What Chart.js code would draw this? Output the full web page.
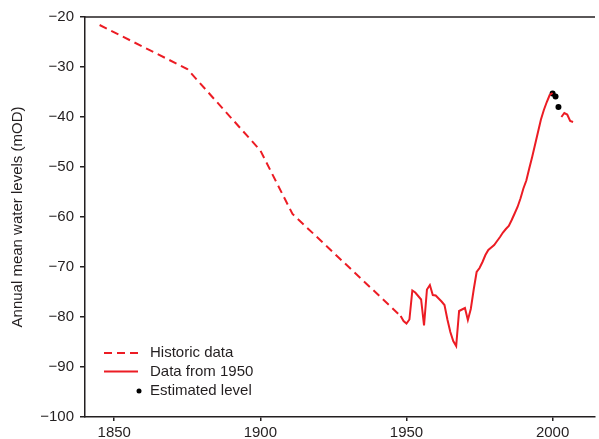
<!DOCTYPE html>
<html>
<head>
<meta charset="utf-8">
<script src="https://cdn.jsdelivr.net/npm/chart.js@4/dist/chart.umd.min.js"></script>
<style>
  html, body { margin: 0; padding: 0; background: #fff; overflow: hidden; }
  #wrap { width: 599px; height: 439px; }
</style>
</head>
<body>
<div id="wrap"><canvas id="chart" width="599" height="439"></canvas></div>
<script>
// data
const histYears = [1845, 1875, 1900, 1911, 1948];
const histLevels = [-21.6, -30.4, -46.7, -59.4, -79.8];

const obsYears = [1948, 1949, 1950, 1951, 1952, 1953, 1954, 1955, 1956, 1957, 1958, 1959,
    1960, 1961, 1962, 1963, 1964, 1965, 1966, 1967, 1968, 1969, 1970, 1971, 1972, 1973,
    1974, 1975, 1976, 1977, 1978, 1979, 1980, 1981, 1982, 1983, 1984, 1985, 1986, 1987,
    1988, 1989, 1990, 1991, 1992, 1993, 1994, 1995, 1996, 1997, 1998, 1999, 2000,
    2001, 2002, 2003, 2004, 2005, 2006, 2007];
const obsLevels = [-79.8, -80.8, -81.3, -80.5, -74.7, -75.1, -75.8, -76.5, -81.7, -74.5, -73.6, -75.6,
    -75.7, -76.3, -76.9, -77.6, -80.5, -83.0, -84.8, -85.8, -78.8, -78.5, -78.2, -80.6, -78.4, -74.5,
    -71.0, -70.2, -69.0, -67.6, -66.6, -66.1, -65.6, -64.8, -64.0, -63.1, -62.4, -61.8, -60.6, -59.3,
    -58.0, -56.3, -54.3, -52.7, -50.3, -48.0, -45.5, -43.0, -40.5, -38.6, -37.0, -35.6, -35.2,
    null, null, -40.0, -39.2, -39.5, -40.8, -41.0];

const estYears = [2000, 2001, 2002];
const estLevels = [-35.3, -35.9, -38.0];

const xTicks = [1850, 1900, 1950, 2000];
const legendLabels = ['Historic data', 'Data from 1950', 'Estimated level'];

const red = '#ec1c24';
const ink = '#231f20';

function pairs(xs, ys) {
    return xs.map((x, i) => ({ x: x, y: ys[i] }));
}

function minus(v) {
    return v < 0 ? '\u2212' + Math.abs(v) : String(v);
}

// cadre du haut + légende dessinée dans la zone du graphique
const framePlugin = {
    id: 'frame',
    afterDraw(chart) {
        const ctx = chart.ctx;
        const a = chart.chartArea;
        ctx.save();
        ctx.strokeStyle = ink;
        ctx.lineWidth = 1.5;
        ctx.beginPath();
        ctx.moveTo(a.left, a.top);
        ctx.lineTo(a.right, a.top);
        ctx.stroke();

        // légende
        const x0 = a.left + 19, x1 = a.left + 53, tx = a.left + 65;
        const rows = [a.bottom - 64, a.bottom - 45.5, a.bottom - 26];
        ctx.strokeStyle = red;
        ctx.lineWidth = 2;
        ctx.setLineDash([8, 5]);
        ctx.beginPath();
        ctx.moveTo(x0, rows[0]);
        ctx.lineTo(x1, rows[0]);
        ctx.stroke();
        ctx.setLineDash([]);
        ctx.beginPath();
        ctx.moveTo(x0, rows[1]);
        ctx.lineTo(x1, rows[1]);
        ctx.stroke();
        ctx.fillStyle = '#000';
        ctx.beginPath();
        ctx.arc(x1 + 1, rows[2], 2.5, 0, Math.PI * 2);
        ctx.fill();

        ctx.fillStyle = ink;
        ctx.font = '15px "Liberation Sans", Arial, sans-serif';
        ctx.textBaseline = 'middle';
        ctx.textAlign = 'left';
        legendLabels.forEach((t, i) => ctx.fillText(t, tx, rows[i]));
        ctx.restore();
    }
};

const font = { family: '"Liberation Sans", Arial, sans-serif', size: 15 };

new Chart(document.getElementById('chart'), {
    type: 'line',
    data: {
        datasets: [{
            label: legendLabels[0],
            data: pairs(histYears, histLevels),
            borderColor: red,
            borderWidth: 2,
            borderDash: [8, 5],
            pointRadius: 0,
            tension: 0
        }, {
            label: legendLabels[1],
            data: pairs(obsYears, obsLevels),
            borderColor: red,
            borderWidth: 2,
            pointRadius: 0,
            spanGaps: false,
            tension: 0
        }, {
            label: legendLabels[2],
            data: pairs(estYears, estLevels),
            showLine: false,
            pointRadius: 3,
            pointBackgroundColor: '#000',
            pointBorderWidth: 0,
            borderColor: '#000'
        }]
    },
    options: {
        responsive: false,
        animation: false,
        layout: { padding: { top: 17, right: 0, bottom: 0, left: 0 } },
        plugins: {
            legend: { display: false },
            tooltip: { enabled: false }
        },
        scales: {
            x: {
                type: 'linear',
                min: 1840,
                max: 2014.5,
                afterBuildTicks: (scale) => { scale.ticks = xTicks.map(v => ({ value: v })); },
                ticks: {
                    font: font,
                    color: ink,
                    padding: 3,
                    maxRotation: 0,
                    callback: (v) => String(v)
                },
                grid: { drawOnChartArea: false, drawTicks: true, tickLength: 4, color: ink, lineWidth: 1.5 },
                border: { color: ink, width: 1.5 },
                afterFit: (scale) => { scale.height = 22; }
            },
            y: {
                min: -100,
                max: -20,
                ticks: {
                    stepSize: 10,
                    font: font,
                    color: ink,
                    padding: 6,
                    callback: (v) => minus(v)
                },
                title: {
                    display: true,
                    text: 'Annual mean water levels (mOD)',
                    font: font,
                    color: ink,
                    padding: { top: 9, bottom: 0 }
                },
                grid: { drawOnChartArea: false, drawTicks: true, tickLength: 5, color: ink, lineWidth: 1.5 },
                border: { color: ink, width: 1.5 },
                afterFit: (scale) => { scale.width = 85; }
            }
        }
    },
    plugins: [framePlugin]
});
</script>
</body>
</html>
